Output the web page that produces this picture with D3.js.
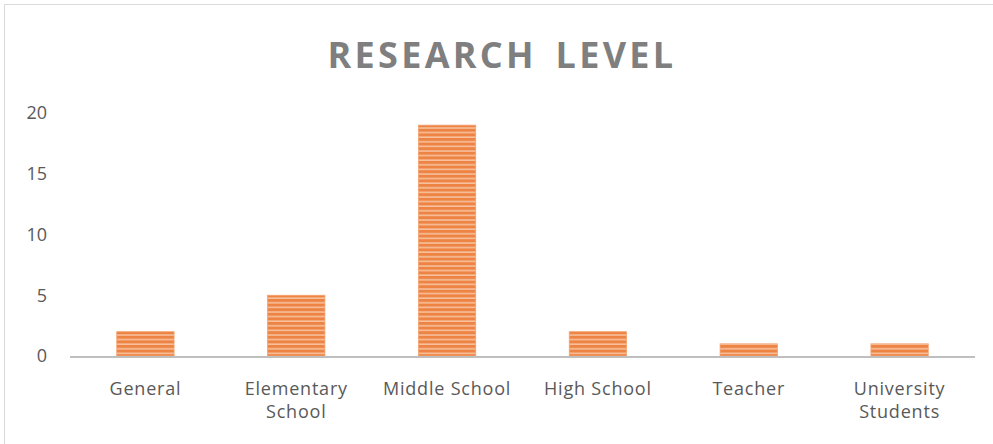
<html>
<head>
  <title>Research Level</title>
  <script src="https://d3js.org/d3.v7.min.js"></script>
  <style>
    body { margin: 0; background: #ffffff; }
    svg { display: block; }
    .tick text { font-family: "Open Sans", "Noto Sans", sans-serif; }
  </style>
</head>
<body>
  <svg id="chart" width="993" height="444"></svg>
  <script>
    // data
    const levels = ["General", "Elementary School", "Middle School", "High School", "Teacher", "University Students"];
    const counts = [2, 5, 19, 2, 1, 1];
    const yTicks = [0, 5, 10, 15, 20];

    const width = 993, height = 444;
    const plotLeft = 70, plotRight = 975, plotTop = 113, plotBottom = 356;

    const svg = d3.select("#chart");

    // outer chart border (runs past the right and bottom edges)
    svg.append("rect")
      .attr("x", 4.5).attr("y", 4.5)
      .attr("width", 1100).attr("height", 600)
      .attr("fill", "none")
      .attr("stroke", "#d9d9d9");

    // striped fill like the office "horizontal lines" pattern
    const defs = svg.append("defs");
    const pat = defs.append("pattern")
      .attr("id", "stripes")
      .attr("patternUnits", "userSpaceOnUse")
      .attr("width", 8).attr("height", 4.6);
    pat.append("rect").attr("width", 8).attr("height", 4.6).attr("fill", "#ee8444");
    pat.append("rect").attr("y", 3).attr("width", 8).attr("height", 1.6).attr("fill", "#f7c09c");

    const x = d3.scaleBand()
      .domain(levels)
      .range([plotLeft, plotRight])
      .paddingInner(0.62)
      .paddingOuter(0.31);

    const y = d3.scaleLinear()
      .domain([0, 20])
      .range([plotBottom, plotTop]);

    // title
    svg.append("text")
      .attr("x", 502)
      .attr("y", 68)
      .attr("text-anchor", "middle")
      .attr("font-family", "'Open Sans', sans-serif")
      .attr("font-weight", "bold")
      .attr("font-size", 36)
      .attr("letter-spacing", 3.3)
      .attr("word-spacing", 6)
      .attr("fill", "#7f7f7f")
      .text("RESEARCH LEVEL");

    // bars
    svg.append("g")
      .selectAll("rect")
      .data(counts)
      .join("rect")
      .attr("x", (d, i) => x(levels[i]))
      .attr("y", d => y(d))
      .attr("width", x.bandwidth())
      .attr("height", d => y(0) - y(d))
      .attr("fill", "url(#stripes)")
      .attr("stroke", "#f3a26f")
      .attr("stroke-width", 0.8);

    // y axis labels only
    const yAxis = svg.append("g")
      .attr("transform", `translate(47,0)`)
      .call(d3.axisLeft(y).tickValues(yTicks).tickSize(0).tickPadding(0));
    yAxis.select(".domain").remove();
    yAxis.selectAll("text")
      .attr("font-size", 18)
      .attr("fill", "#595959");

    // x axis line
    svg.append("line")
      .attr("x1", plotLeft).attr("x2", plotRight)
      .attr("y1", plotBottom + 1).attr("y2", plotBottom + 1)
      .attr("stroke", "#bfbfbf")
      .attr("stroke-width", 2.2);

    // x labels, wrapped the way the reference shows
    const xAxis = svg.append("g")
      .attr("transform", `translate(0,${plotBottom})`)
      .call(d3.axisBottom(x).tickSize(0).tickPadding(0));
    xAxis.select(".domain").remove();
    xAxis.selectAll("text").each(function (d) {
      const t = d3.select(this);
      const lines = (d === "Elementary School" || d === "University Students") ? d.split(" ") : [d];
      t.text(null)
        .attr("y", 0)
        .attr("dy", null)
        .attr("font-size", 18)
        .attr("letter-spacing", 0.8)
        .attr("fill", "#595959");
      lines.forEach((ln, k) => {
        t.append("tspan")
          .attr("x", 0)
          .attr("y", 39 + k * 23)
          .text(ln);
      });
    });
  </script>
</body>
</html>
